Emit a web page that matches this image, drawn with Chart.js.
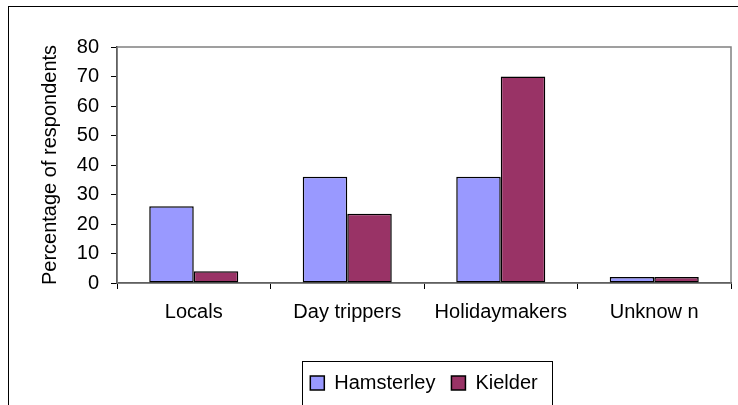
<!DOCTYPE html>
<html>
<head>
<meta charset="utf-8">
<script src="https://cdn.jsdelivr.net/npm/chart.js@4/dist/chart.umd.min.js"></script>
<style>
    html, body { margin: 0; padding: 0; background: #fff; }
    #wrap { width: 738px; height: 405px; position: relative; }
</style>
</head>
<body>
<div id="wrap"><canvas id="visitors"></canvas></div>
<script>
// Data.
const categories = ['Locals', 'Day trippers', 'Holidaymakers', 'Unknow n'];
const hamsterley = [26, 36, 36, 2];
const kielder = [4, 23.5, 70, 2];
const yTicks = [0, 10, 20, 30, 40, 50, 60, 70, 80];

const FONT = "'Liberation Sans', Arial, sans-serif";

// Outer frame, grey plot frame and the boxed legend.
const frames = {
    id: 'frames',
    beforeDraw(chart) {
        const ctx = chart.ctx;
        ctx.save();
        ctx.fillStyle = '#fff';
        ctx.fillRect(0, 0, chart.width, chart.height);
        ctx.strokeStyle = '#000';
        ctx.lineWidth = 1;
        ctx.strokeRect(8.5, 6.5, 1000, 1000);
        ctx.restore();
    },
    beforeDatasetsDraw(chart) {
        const a = chart.chartArea;
        const ctx = chart.ctx;
        ctx.save();
        ctx.strokeStyle = '#808080';
        ctx.lineWidth = 1.5;
        ctx.strokeRect(a.left, a.top, a.right - a.left, a.bottom - a.top);
        ctx.restore();
    },
    afterDraw(chart) {
        const boxes = chart.legend.legendHitBoxes;
        if (!boxes || !boxes.length) return;
        const first = boxes[0];
        const last = boxes[boxes.length - 1];
        const ctx = chart.ctx;
        ctx.save();
        ctx.strokeStyle = '#000';
        ctx.lineWidth = 1;
        const left = Math.round(first.left - 8) + 0.5;
        const right = Math.round(last.left + last.width + 14) + 0.5;
        const top = Math.round(first.top - 12) + 0.5;
        ctx.strokeRect(left, top, right - left, 60);
        ctx.restore();
    }
};

const data = {
    labels: categories,
    datasets: [{
        label: 'Hamsterley',
        data: hamsterley,
        backgroundColor: '#9999FF',
        borderColor: '#000',
        borderWidth: 1.5,
        borderSkipped: false
    }, {
        label: 'Kielder',
        data: kielder,
        backgroundColor: '#993366',
        borderColor: '#000',
        borderWidth: 1.5,
        borderSkipped: false
    }]
};

const config = {
    type: 'bar',
    data: data,
    plugins: [frames],
    options: {
        animation: false,
        responsive: true,
        maintainAspectRatio: false,
        datasets: {
            bar: {
                categoryPercentage: 0.58,
                barPercentage: 1
            }
        },
        layout: {
            padding: { top: 47, right: 7, left: 0, bottom: 2 }
        },
        plugins: {
            tooltip: { enabled: false },
            legend: {
                position: 'bottom',
                fullSize: false,
                labels: {
                    color: '#000',
                    font: { family: FONT, size: 20 },
                    boxWidth: 14,
                    boxHeight: 14,
                    padding: 16,
                    useBorderRadius: false
                }
            }
        },
        scales: {
            x: {
                afterFit(scale) {
                    scale.height = 74;
                },
                grid: {
                    offset: true,
                    drawOnChartArea: false,
                    drawTicks: true,
                    tickLength: 6,
                    color: '#000'
                },
                border: { color: '#000', width: 1.5 },
                ticks: {
                    color: '#000',
                    font: { family: FONT, size: 20 },
                    padding: 11,
                    maxRotation: 0,
                    autoSkip: false
                }
            },
            y: {
                min: 0,
                max: 80,
                afterBuildTicks(scale) {
                    scale.ticks = yTicks.map(v => ({ value: v }));
                },
                afterFit(scale) {
                    scale.width = 117;
                },
                grid: {
                    drawOnChartArea: false,
                    drawTicks: true,
                    tickLength: 6,
                    color: '#000'
                },
                border: { color: '#000', width: 1.5 },
                ticks: {
                    color: '#000',
                    font: { family: FONT, size: 20 },
                    padding: 12
                },
                title: {
                    display: true,
                    text: 'Percentage of respondents',
                    color: '#000',
                    font: { family: FONT, size: 20 },
                    padding: { top: 38, bottom: 0 }
                }
            }
        }
    }
};

new Chart(document.getElementById('visitors'), config);
</script>
</body>
</html>
